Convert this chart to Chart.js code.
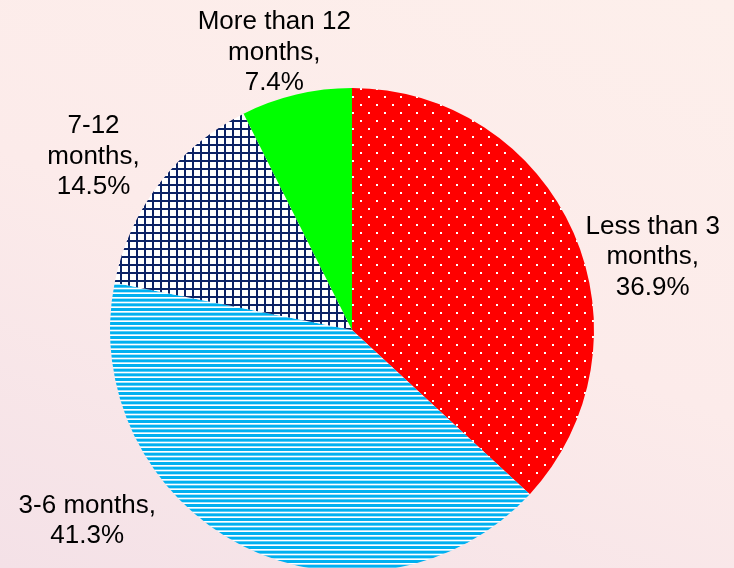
<!DOCTYPE html>
<html>
<head>
<meta charset="utf-8">
<script src="https://cdn.jsdelivr.net/npm/chart.js@4"></script>
<style>
  html, body { margin: 0; padding: 0; }
  body {
    width: 734px;
    height: 568px;
    overflow: hidden;
    background: linear-gradient(200deg, #fdefeb 0%, #fcebea 50%, #f4e1e7 100%);
  }
  #wrap { width: 734px; height: 600px; }
</style>
</head>
<body>
<div id="wrap"><canvas id="chart" width="734" height="600"></canvas></div>
<script>
let categories = [['Less than 3', 'months'], ['3-6 months'], ['7-12', 'months'], ['More than 12', 'months']];
let shares = [36.9, 41.3, 14.5, 7.4];

// where each label sits, relative to the outer edge at the middle of its slice
let labelShift = [[79, 22], [-155, -27], [-66, -29], [-22, -44]];

function makeTile(w, h, draw) {
  let c = document.createElement('canvas');
  c.width = w;
  c.height = h;
  draw(c.getContext('2d'));
  return c;
}

let ctx = document.getElementById('chart').getContext('2d');

// red with white dots
let dots = ctx.createPattern(makeTile(16, 16, function(g) {
  g.fillStyle = '#ff0000';
  g.fillRect(0, 0, 16, 16);
  g.fillStyle = '#ffffff';
  g.fillRect(0, 0, 2, 2);
  g.fillRect(8, 8, 2, 2);
}), 'repeat');

// light blue horizontal stripes
let stripes = ctx.createPattern(makeTile(8, 14, function(g) {
  g.fillStyle = '#ffffff';
  g.fillRect(0, 0, 8, 14);
  g.fillStyle = '#00b0f0';
  for (let i = 0; i < 3; i++) {
    g.fillRect(0, i * 14 / 3, 8, 3);
  }
}), 'repeat');

// navy grid
let grid = ctx.createPattern(makeTile(8, 8, function(g) {
  g.fillStyle = '#ffffff';
  g.fillRect(0, 0, 8, 8);
  g.fillStyle = '#0b2265';
  g.fillRect(0, 0, 8, 2);
  g.fillRect(0, 0, 2, 8);
}), 'repeat');

let sliceLabels = {
  id: 'sliceLabels',
  afterDatasetsDraw(chart) {
    let c = chart.ctx;
    let arcs = chart.getDatasetMeta(0).data;
    c.save();
    c.font = '26px "Liberation Sans", Arial, sans-serif';
    c.fillStyle = '#000000';
    c.textAlign = 'center';
    c.textBaseline = 'alphabetic';
    arcs.forEach(function(arc, i) {
      let p = arc.getProps(['x', 'y', 'startAngle', 'endAngle', 'outerRadius'], true);
      let mid = (p.startAngle + p.endAngle) / 2;
      let cx = p.x + Math.cos(mid) * p.outerRadius + labelShift[i][0];
      let cy = p.y + Math.sin(mid) * p.outerRadius + labelShift[i][1];
      let lines = categories[i].slice();
      lines[lines.length - 1] += ',';
      lines.push(shares[i] + '%');
      let lh = 30.5;
      lines.forEach(function(t, k) {
        let y = cy + (k - (lines.length - 1) / 2) * lh + 9.3;
        c.fillText(t, cx, y);
      });
    });
    c.restore();
  }
};

let pieChart = new Chart(ctx, {
  type: 'pie',
  data: {
    labels: categories.map(function(l) { return l.join(' '); }),
    datasets: [{
      data: shares,
      backgroundColor: [dots, stripes, grid, '#00ff00'],
      borderWidth: 0
    }]
  },
  options: {
    responsive: false,
    animation: false,
    layout: { padding: { left: 110, right: 140, top: 88, bottom: 28 } },
    plugins: {
      legend: { display: false },
      tooltip: { enabled: false }
    }
  },
  plugins: [sliceLabels]
});
</script>
</body>
</html>
